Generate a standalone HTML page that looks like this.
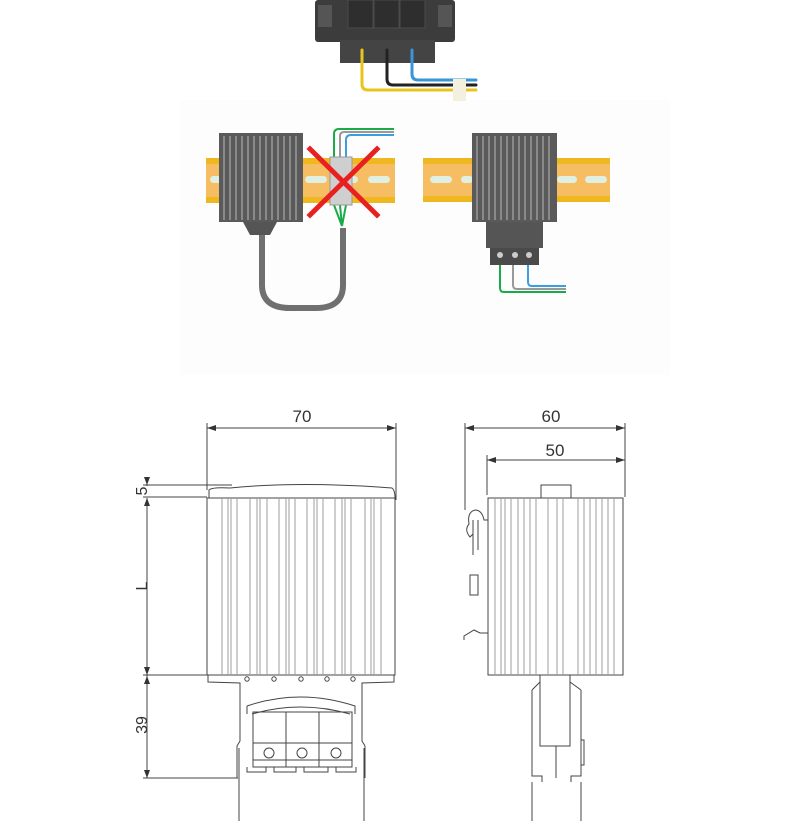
<!DOCTYPE html>
<html><head><meta charset="utf-8"><style>
html,body{margin:0;padding:0;background:#fff;}
svg{display:block;}
text{font-family:"Liberation Sans",sans-serif;fill:#333;}
</style></head><body>
<svg width="790" height="821" viewBox="0 0 790 821" xmlns="http://www.w3.org/2000/svg">
<rect x="180" y="100" width="490" height="275" fill="#fdfdfd"/>
<!-- top connector photo -->
<rect x="315" y="0" width="140" height="42" rx="3" fill="#3c3c3c"/>
<rect x="318" y="5" width="14" height="22" fill="#555"/>
<rect x="438" y="5" width="14" height="22" fill="#555"/>
<rect x="348" y="0" width="25" height="28" fill="#2e2e2e" stroke="#4a4a4a"/>
<rect x="374" y="0" width="25" height="28" fill="#2e2e2e" stroke="#4a4a4a"/>
<rect x="400" y="0" width="25" height="28" fill="#2e2e2e" stroke="#4a4a4a"/>
<rect x="340" y="40" width="95" height="23" fill="#444"/>
<g fill="none" stroke-width="3" stroke-linecap="round">
<path d="M362 50 V84 Q362 90 368 90 H476" stroke="#e8c51c"/>
<path d="M387 50 V79 Q387 85 393 85 H476" stroke="#222"/>
<path d="M412 50 V74 Q412 80 418 80 H476" stroke="#3a95d8"/>
</g>
<rect x="453" y="79" width="13" height="22" fill="#f3f0e0"/>
<!-- rails -->
<g>
<rect x="206" y="158" width="189" height="45" fill="#f6bd63"/>
<rect x="206" y="158" width="189" height="6" fill="#f0b820"/>
<rect x="206" y="197" width="189" height="6" fill="#f0b820"/>
<rect x="423" y="158" width="187" height="44" fill="#f6bd63"/>
<rect x="423" y="158" width="187" height="6" fill="#f0b820"/>
<rect x="423" y="196" width="187" height="6" fill="#f0b820"/>
<g fill="#dff0e2">
<rect x="210" y="176" width="14" height="7" rx="3.5"/><rect x="305" y="176" width="22" height="7" rx="3.5"/><rect x="350" y="176" width="8" height="7" rx="3.5"/><rect x="368" y="176" width="22" height="7" rx="3.5"/>
<rect x="430" y="176" width="22" height="7" rx="3.5"/><rect x="461" y="176" width="12" height="7" rx="3.5"/><rect x="557" y="176" width="20" height="7" rx="3.5"/><rect x="585" y="176" width="22" height="7" rx="3.5"/>
</g>
</g>
<!-- left heater -->
<path d="M262 222 V285 Q262 308 290 308 H316 Q343 308 343 285 V228" fill="none" stroke="#707070" stroke-width="6"/>
<path d="M243 222 L250 235 H270 L277 222Z" fill="#555"/>
<rect x="219" y="133" width="84" height="89" fill="#5a5a5a"/>
<g stroke="#9a9a9a" stroke-width="1.5">
<line x1="224" y1="136" x2="224" y2="220"/><line x1="230" y1="136" x2="230" y2="220"/><line x1="236" y1="136" x2="236" y2="220"/><line x1="242" y1="136" x2="242" y2="220"/><line x1="248" y1="136" x2="248" y2="220"/><line x1="254" y1="136" x2="254" y2="220"/><line x1="260" y1="136" x2="260" y2="220"/><line x1="266" y1="136" x2="266" y2="220"/><line x1="272" y1="136" x2="272" y2="220"/><line x1="278" y1="136" x2="278" y2="220"/><line x1="284" y1="136" x2="284" y2="220"/><line x1="290" y1="136" x2="290" y2="220"/><line x1="296" y1="136" x2="296" y2="220"/>
</g>
<g fill="none" stroke-width="2">
<path d="M334 158 V134 Q334 129 339 129 H394" stroke="#1aaa48"/>
<path d="M340 158 V136 Q340 132 344 132 H394" stroke="#999"/>
<path d="M346 158 V140 Q346 135 351 135 H394" stroke="#3a9ee0"/>
<path d="M334 205 L342 226 M340 205 L342 226 M346 205 L342 226" stroke="#1aaa48"/>
</g>
<rect x="330" y="157" width="22" height="48" fill="#cfcfcf" stroke="#999"/>
<g stroke="#e82020" stroke-width="5" stroke-linecap="square"><line x1="310" y1="149" x2="377" y2="215"/><line x1="377" y1="149" x2="310" y2="215"/></g>
<!-- right heater -->
<rect x="472" y="133" width="85" height="89" fill="#5a5a5a"/>
<g stroke="#9a9a9a" stroke-width="1.5">
<line x1="477" y1="136" x2="477" y2="220"/><line x1="483" y1="136" x2="483" y2="220"/><line x1="489" y1="136" x2="489" y2="220"/><line x1="495" y1="136" x2="495" y2="220"/><line x1="501" y1="136" x2="501" y2="220"/><line x1="507" y1="136" x2="507" y2="220"/><line x1="513" y1="136" x2="513" y2="220"/><line x1="519" y1="136" x2="519" y2="220"/><line x1="525" y1="136" x2="525" y2="220"/><line x1="531" y1="136" x2="531" y2="220"/><line x1="537" y1="136" x2="537" y2="220"/><line x1="543" y1="136" x2="543" y2="220"/><line x1="549" y1="136" x2="549" y2="220"/>
</g>
<rect x="486" y="222" width="57" height="26" fill="#555"/>
<rect x="490" y="248" width="49" height="17" fill="#4a4a4a"/>
<g fill="#ccc"><circle cx="500" cy="255" r="3"/><circle cx="515" cy="255" r="3"/><circle cx="529" cy="255" r="3"/></g>
<g fill="none" stroke-width="2">
<path d="M500 265 V288 Q500 292 504 292 H566" stroke="#1aaa48"/>
<path d="M513 265 V285 Q513 289 517 289 H566" stroke="#999"/>
<path d="M528 265 V282 Q528 286 532 286 H566" stroke="#3a9ee0"/>
</g>
<!-- drawings -->
<g fill="none" stroke="#444" stroke-width="1">
<line x1="207" y1="423" x2="207" y2="490"/><line x1="396" y1="423" x2="396" y2="500"/>
<line x1="207" y1="428" x2="396" y2="428"/>
<line x1="147" y1="478" x2="147" y2="486"/><line x1="147" y1="498" x2="147" y2="778"/>
<line x1="143" y1="485" x2="232" y2="485"/><line x1="143" y1="497" x2="207" y2="497"/>
<line x1="143" y1="675" x2="207" y2="675"/><line x1="143" y1="778" x2="238" y2="778"/>
<path d="M209 498 V490 Q212 487 230 488 Q300 481 392 488 Q395 490 395 498"/>
<rect x="207" y="498" width="188" height="177"/>
<path d="M208 675 V682 L240 683 V741 L237 746 V778 M394 675 V682 L362 683 V741 L365 746 V778"/>
<path d="M239 748 V821 M364 748 V821"/>
<path d="M247 706 Q300 688 355 706 V714 M247 706 V714 M252 714 Q300 700 350 714"/>
<rect x="253" y="712" width="99" height="55"/>
<line x1="253" y1="743" x2="352" y2="743"/><line x1="253" y1="760" x2="352" y2="760"/>
<line x1="286" y1="712" x2="286" y2="767"/><line x1="319" y1="712" x2="319" y2="767"/>
<circle cx="269" cy="753" r="5"/><circle cx="302" cy="753" r="5"/><circle cx="336" cy="753" r="5"/>
<path d="M247 767 V772 H266 V767 M274 767 V772 H296 V767 M304 767 V772 H328 V767 M336 767 V772 H356 V767"/>
<circle cx="247" cy="679" r="2.2"/><circle cx="274" cy="679" r="2.2"/><circle cx="301" cy="679" r="2.2"/><circle cx="327" cy="679" r="2.2"/><circle cx="353" cy="679" r="2.2"/>
<line x1="465" y1="423" x2="465" y2="510"/><line x1="625" y1="423" x2="625" y2="497"/>
<line x1="465" y1="428" x2="625" y2="428"/>
<line x1="487" y1="455" x2="487" y2="495"/>
<line x1="487" y1="460" x2="625" y2="460"/>
<rect x="488" y="498" width="135" height="177"/>
<rect x="541" y="485" width="30" height="13"/>
<path d="M488 520 H484 Q482 510 475 510 Q467 512 469 524 Q464 530 470 537 L473 534 V555 M473 520 V550 M478 520 V550"/>
<rect x="470" y="575" width="8" height="20"/>
<path d="M488 520 V633 H480 L474 630 L464 636 V640"/>
<path d="M540 675 V746 H570 V675"/>
<path d="M532 690 L540 682 M581 690 L570 682 M532 690 V776 H542 V782 M581 690 V776 H571 V782 M556 746 V778 M581 740 H584 V765 H581"/>
<path d="M532 782 V821 M581 782 V821"/>
</g>
<g stroke="#9c9c9c" stroke-width="1">
<line x1="222" y1="498" x2="222" y2="675"/><line x1="228" y1="498" x2="228" y2="675"/><line x1="231" y1="498" x2="231" y2="675"/><line x1="237" y1="498" x2="237" y2="675"/><line x1="250" y1="498" x2="250" y2="675"/><line x1="257" y1="498" x2="257" y2="675"/><line x1="260" y1="498" x2="260" y2="675"/><line x1="267" y1="498" x2="267" y2="675"/><line x1="279" y1="498" x2="279" y2="675"/><line x1="286" y1="498" x2="286" y2="675"/><line x1="289" y1="498" x2="289" y2="675"/><line x1="295" y1="498" x2="295" y2="675"/><line x1="307" y1="498" x2="307" y2="675"/><line x1="314" y1="498" x2="314" y2="675"/><line x1="317" y1="498" x2="317" y2="675"/><line x1="323" y1="498" x2="323" y2="675"/><line x1="335" y1="498" x2="335" y2="675"/><line x1="342" y1="498" x2="342" y2="675"/><line x1="345" y1="498" x2="345" y2="675"/><line x1="351" y1="498" x2="351" y2="675"/><line x1="365" y1="498" x2="365" y2="675"/><line x1="371" y1="498" x2="371" y2="675"/><line x1="374" y1="498" x2="374" y2="675"/><line x1="381" y1="498" x2="381" y2="675"/>
<line x1="495" y1="498" x2="495" y2="675"/><line x1="501" y1="498" x2="501" y2="675"/><line x1="505" y1="498" x2="505" y2="675"/><line x1="511" y1="498" x2="511" y2="675"/><line x1="518" y1="498" x2="518" y2="675"/><line x1="524" y1="498" x2="524" y2="675"/><line x1="530" y1="498" x2="530" y2="675"/><line x1="536" y1="498" x2="536" y2="675"/><line x1="548" y1="498" x2="548" y2="675"/><line x1="557" y1="498" x2="557" y2="675"/><line x1="563" y1="498" x2="563" y2="675"/><line x1="578" y1="498" x2="578" y2="675"/><line x1="584" y1="498" x2="584" y2="675"/><line x1="590" y1="498" x2="590" y2="675"/><line x1="596" y1="498" x2="596" y2="675"/><line x1="602" y1="498" x2="602" y2="675"/><line x1="608" y1="498" x2="608" y2="675"/><line x1="614" y1="498" x2="614" y2="675"/>
</g>
<g fill="#333">
<path d="M207 428 l9 -3 v6z"/><path d="M396 428 l-9 -3 v6z"/>
<path d="M465 428 l9 -3 v6z"/><path d="M625 428 l-9 -3 v6z"/>
<path d="M487 460 l9 -3 v6z"/><path d="M625 460 l-9 -3 v6z"/>
<path d="M147 485 l-3 -8 h6z"/><path d="M147 498 l-3 8 h6z"/>
<path d="M147 675 l-3 -8 h6z"/><path d="M147 676 l-3 8 h6z"/><path d="M147 778 l-3 -8 h6z"/>
</g>
<text x="302" y="422" font-size="17" text-anchor="middle">70</text>
<text x="551" y="422" font-size="17" text-anchor="middle">60</text>
<text x="555" y="456" font-size="17" text-anchor="middle">50</text>
<text transform="translate(147,491) rotate(-90)" font-size="16" text-anchor="middle">5</text>
<text transform="translate(147,586) rotate(-90)" font-size="16" text-anchor="middle">L</text>
<text transform="translate(147,725) rotate(-90)" font-size="16" text-anchor="middle">39</text>
</svg>
</body></html>
